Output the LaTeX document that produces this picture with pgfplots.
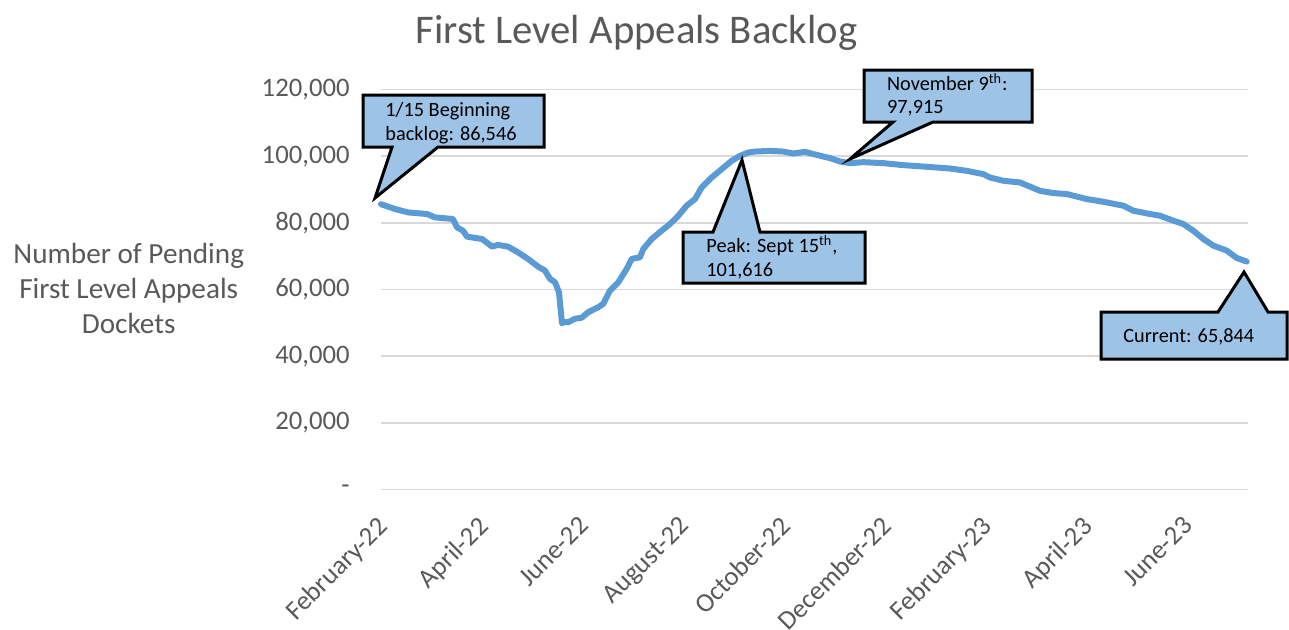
\documentclass[border=0pt]{standalone}
\usepackage{fontspec}
\setmainfont{Carlito}
\usepackage{pgfplots}
\pgfplotsset{compat=1.18}
\definecolor{txtgray}{HTML}{595959}
\definecolor{gridgray}{HTML}{D9D9D9}
\definecolor{linebl}{HTML}{5B9BD5}
\definecolor{callfill}{HTML}{9DC3E6}
\begin{document}
\begin{tikzpicture}
\useasboundingbox (0,0) rectangle (644.5pt,-314.5pt);
\begin{axis}[
  at={(190.5pt,-244.75pt)}, anchor=south west,
  scale only axis, width=433.5pt, height=200pt,
  xmin=0, xmax=17.22, ymin=0, ymax=120000,
  scaled y ticks=false, scaled x ticks=false,
  axis line style={draw=none},
  ymajorgrids, grid style={gridgray, line width=0.75pt},
  major tick length=0pt,
  xtick={0,2,4,6,8,10,12,14,16},
  xticklabels={February-22,April-22,June-22,August-22,October-22,December-22,February-23,April-23,June-23},
  ytick={0,20000,40000,60000,80000,100000,120000},
  yticklabels={{-\hspace{12pt}},{20,000},{40,000},{60,000},{80,000},{100,000},{120,000}},
  tick label style={font=\fontsize{13.35}{16}\selectfont, text=txtgray},
  xticklabel style={xshift=-2.5pt, yshift=-12.5pt, rotate=45, anchor=north east, inner sep=0pt},
  yticklabel style={anchor=east, inner sep=0pt, xshift=-15.5pt},
  clip=false
]
\addplot[linebl, line width=3pt, line join=round, line cap=round] coordinates {
(0,85600) (0.278,84150) (0.536,83130) (0.914,82650) (1.072,81640) (1.430,81160)
(1.509,78640) (1.629,77650) (1.708,75860) (2.006,75170) (2.205,72870) (2.324,73380)
(2.522,72870) (2.721,71160) (2.920,69190) (3.118,66880) (3.257,65680) (3.356,63200)
(3.456,62180) (3.535,59190) (3.595,49820) (3.621,50210) (3.720,50210) (3.853,51230)
(3.986,51530) (4.117,53210) (4.316,54700) (4.415,55720) (4.548,59690) (4.713,62180)
(4.880,66190) (4.979,69190) (5.144,69660) (5.210,72180) (5.377,75170) (5.575,77650)
(5.740,79660) (5.905,82140) (6.071,85140) (6.236,87140) (6.369,90610) (6.568,93600)
(6.767,96120) (6.965,98600) (7.130,100100) (7.295,101090) (7.428,101390) (7.726,101590)
(7.990,101390) (8.189,100790) (8.421,101290) (8.653,100400) (8.918,99410) (9.116,98400)
(9.315,97910) (9.579,98210) (9.976,97910) (10.373,97310) (10.770,96900) (11.301,96300)
(11.632,95610) (11.962,94620) (12.095,93610) (12.360,92620) (12.691,92110) (13.088,89620)
(13.352,88940) (13.619,88640) (14.016,87140) (14.346,86330) (14.743,85140) (14.942,83640)
(15.273,82650) (15.472,82140) (15.736,80650) (15.934,79660) (16.133,77650) (16.332,75170)
(16.531,73170) (16.797,71670) (16.995,69480) (17.194,68380)
};
\end{axis}
\begin{scope}[x=0.5pt, y=-0.5pt]
\node[font=\fontsize{20.35}{24}\selectfont, text=txtgray, anchor=base, inner sep=0pt] at (636.5,43) {First Level Appeals Backlog};
\begin{scope}[font=\fontsize{14.6}{17.5}\selectfont, text=txtgray]
\node[anchor=base, inner sep=0pt] at (128.7,263) {Number of Pending};
\node[anchor=base, inner sep=0pt] at (128.7,298.3) {First Level Appeals};
\node[anchor=base, inner sep=0pt] at (128.7,333.3) {Dockets};
\end{scope}
\tikzset{callout/.style={fill=callfill, draw=black, line width=1.5pt, line join=miter}}
\draw[callout] (363,95) -- (544,95) -- (544,147) -- (438,147) -- (375,198) -- (392,147) -- (363,147) -- cycle;
\draw[callout] (864,70) -- (1032,70) -- (1032,122) -- (933,122) -- (850,159) -- (893,122) -- (864,122) -- cycle;
\draw[callout] (683,232) -- (713,232) -- (742,160) -- (760,232) -- (865,232) -- (865,283) -- (683,283) -- cycle;
\draw[callout] (1101,312) -- (1218,312) -- (1244,272) -- (1268,312) -- (1287,312) -- (1287,359) -- (1101,359) -- cycle;
\begin{scope}[font=\fontsize{10.15}{12}\selectfont]
\node[anchor=base west, inner sep=0pt] at (385,116.7) {1/15 Beginning};
\node[anchor=base west, inner sep=0pt] at (385,140.7) {backlog: 86,546};
\node[anchor=base west, inner sep=0pt] at (886.7,90.7) {November 9\textsuperscript{th}:};
\node[anchor=base west, inner sep=0pt] at (886.7,113.3) {97,915};
\node[anchor=base west, inner sep=0pt] at (706,252.7) {Peak: Sept 15\textsuperscript{th},};
\node[anchor=base west, inner sep=0pt] at (706,276) {101,616};
\node[anchor=base west, inner sep=0pt] at (1123,342.7) {Current: 65,844};
\end{scope}
\end{scope}
\end{tikzpicture}
\end{document}
